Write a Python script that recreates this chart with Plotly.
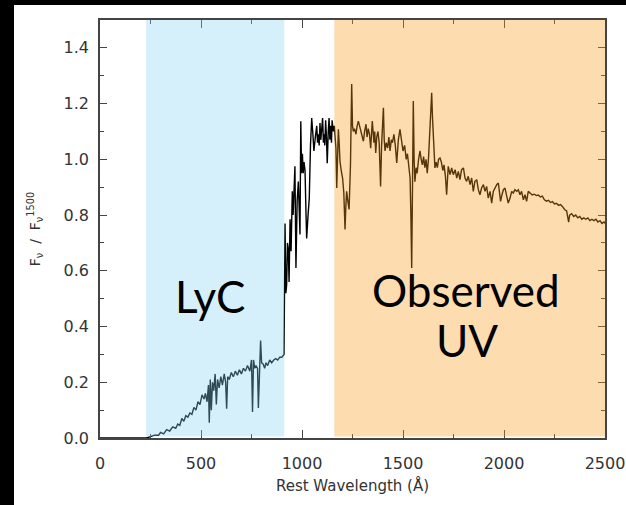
import plotly.graph_objects as go

# Spectrum: rest wavelength (Angstrom) and normalised flux F_nu / F_nu(1500)
wavelength = [
    0, 230, 250, 270, 290, 300, 315, 330, 345, 360, 375, 385, 395, 405, 415, 425, 435, 445, 455, 465,
    475, 485, 495, 505, 515, 522, 530, 537, 541, 546, 551, 557, 563, 570, 576, 582, 590, 598, 606, 615,
    622, 627, 632, 640, 650, 660, 670, 680, 690, 700, 710, 720, 730, 742, 750, 755, 760, 766, 772, 780,
    784, 789, 795, 800, 808, 815, 822, 830, 840, 850, 860, 870, 880, 890, 900, 911,
    912, 916, 920, 924, 928, 932, 936, 941, 946, 952, 956, 960, 965, 970, 976, 982, 986, 990, 994, 998,
    1002, 1006, 1010, 1015, 1020, 1023, 1030, 1036, 1042, 1048, 1053, 1059, 1066, 1073, 1077, 1081, 1085,
    1089, 1093, 1097, 1102, 1106, 1109, 1113, 1117, 1121, 1125, 1130, 1134, 1138, 1142, 1146, 1149, 1155,
    1160, 1163, 1168, 1172, 1176, 1180, 1184, 1188, 1194, 1201, 1207, 1213, 1217, 1221, 1227, 1233, 1240,
    1246, 1250, 1254, 1260, 1267, 1273, 1279, 1285, 1291, 1298, 1304, 1310, 1317, 1322, 1328, 1334, 1340,
    1348, 1352, 1356, 1360, 1365, 1370, 1376, 1382, 1389, 1394, 1403, 1407, 1411, 1417, 1424, 1430, 1436,
    1442, 1448, 1455, 1462, 1469, 1477, 1485, 1492, 1500, 1508, 1516, 1522, 1528, 1535, 1539, 1543, 1547,
    1551, 1555, 1559, 1565, 1570, 1577, 1584, 1590, 1596, 1602, 1608, 1614, 1620, 1626, 1634, 1642, 1646,
    1650, 1654, 1658, 1664, 1670, 1676, 1683, 1690, 1697, 1703, 1710, 1716, 1720, 1724, 1733, 1741, 1749,
    1758, 1766, 1774, 1782, 1790, 1799, 1807, 1815, 1823, 1832, 1840, 1848, 1856, 1865, 1873, 1881, 1889,
    1898, 1906, 1914, 1922, 1931, 1939, 1947, 1955, 1964, 1972, 1977, 1983, 1990, 1997, 2005, 2013, 2021,
    2030, 2038, 2046, 2054, 2063, 2071, 2079, 2087, 2096, 2104, 2112, 2120, 2129, 2140, 2150, 2160, 2170,
    2180, 2190, 2200, 2210, 2220, 2230, 2240, 2250, 2260, 2270, 2280, 2290, 2300, 2310, 2315, 2320, 2325,
    2335, 2345, 2355, 2365, 2375, 2385, 2395, 2405, 2415, 2425, 2435, 2445, 2455, 2465, 2475, 2485, 2495, 2500,
]
flux = [
    0.0, 0.0, 0.005, 0.01, 0.01, 0.02, 0.015, 0.03, 0.025, 0.04, 0.035, 0.05, 0.045, 0.07, 0.06, 0.08, 0.075, 0.09, 0.085, 0.11,
    0.10, 0.13, 0.12, 0.155, 0.14, 0.16, 0.13, 0.19, 0.055, 0.21, 0.10, 0.20, 0.17, 0.23, 0.12, 0.21, 0.18, 0.22, 0.19, 0.23,
    0.20, 0.105, 0.22, 0.21, 0.235, 0.22, 0.24, 0.225, 0.245, 0.23, 0.25, 0.24, 0.26, 0.24, 0.28, 0.093, 0.28, 0.25, 0.26, 0.25,
    0.108, 0.27, 0.35, 0.27, 0.265, 0.25, 0.27, 0.26, 0.28, 0.27, 0.28, 0.285, 0.28, 0.29, 0.29, 0.30,
    0.49, 0.77, 0.52, 0.55, 0.70, 0.68, 0.56, 0.785, 0.67, 0.885, 0.80, 0.93, 0.975, 0.61, 0.85, 0.92, 0.82, 0.73, 1.137, 0.95,
    1.02, 0.95, 0.99, 0.96, 0.80, 0.716, 0.80, 0.86, 1.05, 1.148, 1.10, 1.03, 1.08, 1.12, 1.06, 1.09, 1.05,
    1.13, 1.07, 1.10, 1.148, 1.06, 1.09, 1.05, 1.14, 1.08, 0.986, 1.10, 1.148, 1.07, 1.12, 1.06, 1.14, 1.10,
    1.12, 1.09, 1.04, 0.897, 1.05, 1.108, 1.06, 0.993, 0.96, 0.933, 0.88, 0.748, 0.83, 0.885, 0.85, 0.82, 0.98,
    1.27, 1.12, 1.10, 1.11, 1.09, 1.12, 1.137, 1.12, 1.10, 1.08, 1.065, 1.10, 1.126, 1.08, 1.11, 1.09, 1.04,
    1.137, 1.09, 1.06, 1.10, 1.023, 1.08, 1.10, 1.06, 0.903, 1.05, 1.185, 1.07, 1.03, 1.06, 1.04, 1.08, 1.03,
    1.07, 1.06, 1.09, 1.05, 0.987, 1.07, 1.108, 1.06, 1.03, 1.05, 1.00, 1.02, 0.98, 0.933, 0.80, 0.61, 0.90,
    1.209, 1.00, 0.92, 0.97, 0.95, 1.00, 1.03, 1.00, 0.98, 1.01, 0.97, 1.00, 0.95, 1.00, 1.10, 1.239, 1.15,
    1.077, 1.00, 0.969, 0.99, 0.97, 1.00, 1.005, 0.99, 0.96, 0.98, 0.94, 0.873, 0.95, 0.975, 0.945, 0.969, 0.945,
    0.963, 0.933, 0.957, 0.927, 0.963, 0.969, 0.933, 0.921, 0.939, 0.909, 0.933, 0.885, 0.921, 0.927, 0.891, 0.873, 0.897,
    0.909, 0.885, 0.903, 0.861, 0.885, 0.843, 0.885, 0.897, 0.909, 0.915, 0.885, 0.849, 0.873, 0.891, 0.897, 0.873, 0.843,
    0.861, 0.885, 0.879, 0.891, 0.885, 0.891, 0.873, 0.885, 0.855, 0.873, 0.849, 0.885, 0.879, 0.872, 0.875, 0.87, 0.872,
    0.865, 0.868, 0.855, 0.85, 0.853, 0.845, 0.848, 0.84, 0.842, 0.835, 0.838, 0.83, 0.82, 0.815, 0.79, 0.775, 0.80,
    0.805, 0.795, 0.80, 0.79, 0.795, 0.785, 0.79, 0.785, 0.79, 0.78, 0.785, 0.78, 0.785, 0.775, 0.78, 0.77, 0.775, 0.77,
]

# Shaded regions (Angstrom)
lyc_range = [228, 912]
uv_range = [1160, 2500]

x_ticks = [0, 500, 1000, 1500, 2000, 2500]
y_ticks = [0.0, 0.2, 0.4, 0.6, 0.8, 1.0, 1.2, 1.4]

W, H = 626, 505
ml, mr, mt, mb = 100, 21, 20, 67
pw, ph = W - ml - mr, H - mt - mb

fig = go.Figure()
fig.add_trace(go.Scatter(x=wavelength, y=flux, mode="lines",
                         line=dict(color="black", width=1.4), hoverinfo="skip", showlegend=False,
                         cliponaxis=True))

axis_font = dict(family="DejaVu Sans", size=16, color="#333333")
common = dict(showline=True, linecolor="#444444", linewidth=1.5, mirror="ticks",
              ticks="inside", tickcolor="#444444", tickwidth=1.3, showgrid=False,
              zeroline=False, tickfont=axis_font, automargin=False)

fig.update_xaxes(range=[0, 2500], tickvals=x_ticks, ticktext=[str(v) for v in x_ticks], ticklen=8,
                 ticklabelstandoff=10,
                 minor=dict(ticks="inside", dtick=250, ticklen=4, tickcolor="#444444", tickwidth=1.3),
                 title=dict(text="Rest Wavelength (Å)", font=dict(family="DejaVu Sans", size=15, color="#333333"),
                            standoff=9),
                 **common)
fig.update_yaxes(range=[0, 1.5], tickvals=y_ticks, ticktext=[f"{v:.1f}" for v in y_ticks], ticklen=7,
                 ticklabelstandoff=6,
                 minor=dict(ticks="inside", dtick=0.1, ticklen=4, tickcolor="#444444", tickwidth=1.3),
                 title=dict(text="F<sub>ν</sub>  /  F<sub>ν</sub><sup>1500</sup>",
                            font=dict(family="DejaVu Sans", size=14, color="#333333"), standoff=20),
                 **common)

shapes = [
    dict(type="rect", xref="x", yref="y", x0=lyc_range[0], x1=lyc_range[1], y0=0.005, y1=1.5,
         fillcolor="rgba(138,212,243,0.35)", line=dict(width=0), layer="above"),
    dict(type="rect", xref="x", yref="y", x0=uv_range[0], x1=uv_range[1], y0=0.005, y1=1.5,
         fillcolor="rgba(249,155,29,0.35)", line=dict(width=0), layer="above"),
    # black strips at the image border (left and top)
    dict(type="rect", xref="paper", yref="paper", x0=-ml / pw, x1=(14 - ml) / pw,
         y0=-mb / ph, y1=1 + mt / ph, fillcolor="black", line=dict(width=0), layer="above"),
    dict(type="rect", xref="paper", yref="paper", x0=-ml / pw, x1=1 + mr / pw,
         y0=1 + (mt - 5) / ph, y1=1 + mt / ph, fillcolor="black", line=dict(width=0), layer="above"),
]

label_font = dict(family="Lato", size=44, color="black")
annotations = [
    dict(x=545, y=0.51, xref="x", yref="y", text="LyC", showarrow=False, font=label_font),
    dict(x=1810, y=0.53, xref="x", yref="y", text="Observed", showarrow=False, font=label_font),
    dict(x=1815, y=0.35, xref="x", yref="y", text="UV", showarrow=False, font=label_font),
]

fig.update_layout(width=W, height=H, margin=dict(l=ml, r=mr, t=mt, b=mb, autoexpand=False),
                  paper_bgcolor="white", plot_bgcolor="white",
                  shapes=shapes, annotations=annotations, showlegend=False)

fig.write_html("out.html")
